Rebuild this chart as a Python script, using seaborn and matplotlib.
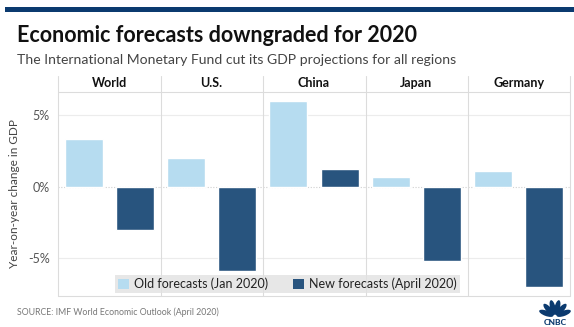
import numpy as np
import pandas as pd
import matplotlib
matplotlib.use("Agg")
import matplotlib.pyplot as plt
from matplotlib.lines import Line2D
from matplotlib.patches import Rectangle, Ellipse, Patch
import seaborn as sns

# IMF GDP growth forecasts for 2020 (%)
regions = ["World", "U.S.", "China", "Japan", "Germany"]
old_forecast = [3.3, 2.0, 6.0, 0.7, 1.1]     # January 2020
new_forecast = [-3.0, -5.9, 1.2, -5.2, -7.0]  # April 2020
series_labels = ["Old forecasts (Jan 2020)", "New forecasts (April 2020)"]
y_ticks = [-5, 0, 5]
y_tick_labels = ["-5%", "0%", "5%"]

OLD_COLOR = "#b6dcf0"
NEW_COLOR = "#28547e"
GRID = "#dcdcdc"

df = pd.DataFrame({
    "region": np.repeat(regions, 2),
    "forecast": series_labels * len(regions),
    "value": [v for pair in zip(old_forecast, new_forecast) for v in pair],
})

sns.set_theme(style="white")
plt.rcParams["font.family"] = ["Lato", "DejaVu Sans"]

W, H = 574, 327
fig, axes = plt.subplots(1, 5, figsize=(W / 100, H / 100), dpi=100, sharey=True)
left, right, top, bottom = 58 / W, 570 / W, 1 - 92 / H, 1 - 296 / H
fig.subplots_adjust(left=left, right=right, top=top, bottom=bottom, wspace=0)

palette = {series_labels[0]: OLD_COLOR, series_labels[1]: NEW_COLOR}
for ax, region in zip(axes, regions):
    sub = df[df["region"] == region]
    sns.barplot(data=sub, x="forecast", y="value", hue="forecast",
                palette=palette, order=series_labels, width=0.74,
                saturation=1, legend=False, ax=ax, zorder=3)
    ax.set_ylim(-7.63, 6.6)
    ax.set_xlim(-0.5, 1.5)
    ax.set_xlabel("")
    ax.set_ylabel("")
    ax.set_xticks([])
    for s in ["top", "right", "bottom", "left"]:
        ax.spines[s].set_visible(False)
    for yv in (-5, 5):
        ax.axhline(yv, color="#ececec", lw=0.8, zorder=1)
    ax.axhline(0, color="#cfcfcf", lw=0.8, ls=(0, (1, 1.5)), zorder=1)
    ax.text(0.5, 1.0 + 8.5 / (296 - 92), region, transform=ax.transAxes,
            ha="center", va="center", fontsize=9, fontweight="bold",
            color="#111111")

axes[0].set_yticks(y_ticks)
axes[0].set_yticklabels(y_tick_labels)
axes[0].tick_params(axis="y", length=0, pad=6, labelsize=9, labelcolor="#555555")
axes[0].set_ylabel("Year-on-year change in GDP", fontsize=8.5, color="#444444",
                   labelpad=6)

# panel frame: dividers reaching up through the header strip
def fx(px):
    return px / W

def fy(py):
    return 1 - py / H

edges = [58, 160.7, 263.3, 365.5, 467.8, 570]
for xe in edges:
    fig.add_artist(Line2D([fx(xe), fx(xe)], [fy(76), fy(296)],
                          color=GRID, lw=0.8))
fig.add_artist(Line2D([fx(58), fx(570)], [fy(92), fy(92)], color=GRID, lw=0.8))
fig.add_artist(Line2D([fx(58), fx(570)], [fy(296), fy(296)], color=GRID, lw=0.8))

# legend
handles = [Patch(facecolor=OLD_COLOR, edgecolor="none"),
           Patch(facecolor=NEW_COLOR, edgecolor="none")]
leg = fig.legend(handles, series_labels, ncol=2, loc="center",
                 bbox_to_anchor=(fx(287.5), fy(284)), frameon=True,
                 facecolor="#e2e2e2", edgecolor="none", fancybox=False,
                 fontsize=9, handlelength=0.9, handleheight=0.9,
                 handletextpad=0.4, columnspacing=2.0, borderpad=0.25,
                 borderaxespad=0)
leg.get_frame().set_linewidth(0)
for t in leg.get_texts():
    t.set_color("#222222")

# header band, titles and source
fig.add_artist(Rectangle((fx(5), fy(12.3)), 1 - fx(5), 5.6 / H,
                         transform=fig.transFigure, color="#0b3a6f", lw=0))
fig.text(fx(17), fy(35), "Economic forecasts downgraded for 2020",
         fontsize=15.5, fontweight="bold", color="#111111", va="center")
fig.text(fx(17), fy(60), "The International Monetary Fund cut its GDP projections for all regions",
         fontsize=10.1, color="#444444", va="center")
fig.text(fx(17), fy(312), "SOURCE: IMF World Economic Outlook (April 2020)",
         fontsize=6.3, color="#777777", va="center")

# peacock logo
logo_ax = fig.add_axes([fx(537), fy(327), fx(573) - fx(537), 30 / H])
logo_ax.set_xlim(-1.2, 1.2)
logo_ax.set_ylim(-1.0, 1.0)
logo_ax.axis("off")
for ang in np.linspace(20, 160, 6):
    r = np.deg2rad(ang)
    logo_ax.add_patch(Ellipse((0.62 * np.cos(r), -0.3 + 0.62 * np.sin(r)),
                              0.36, 1.0, angle=ang - 90, color="#0b3a6f", lw=0))
logo_ax.text(0, -0.72, "CNBC", ha="center", va="center", fontsize=6,
             fontweight="black", color="#0b3a6f")

fig.savefig("out.png", dpi=100, facecolor="white")
